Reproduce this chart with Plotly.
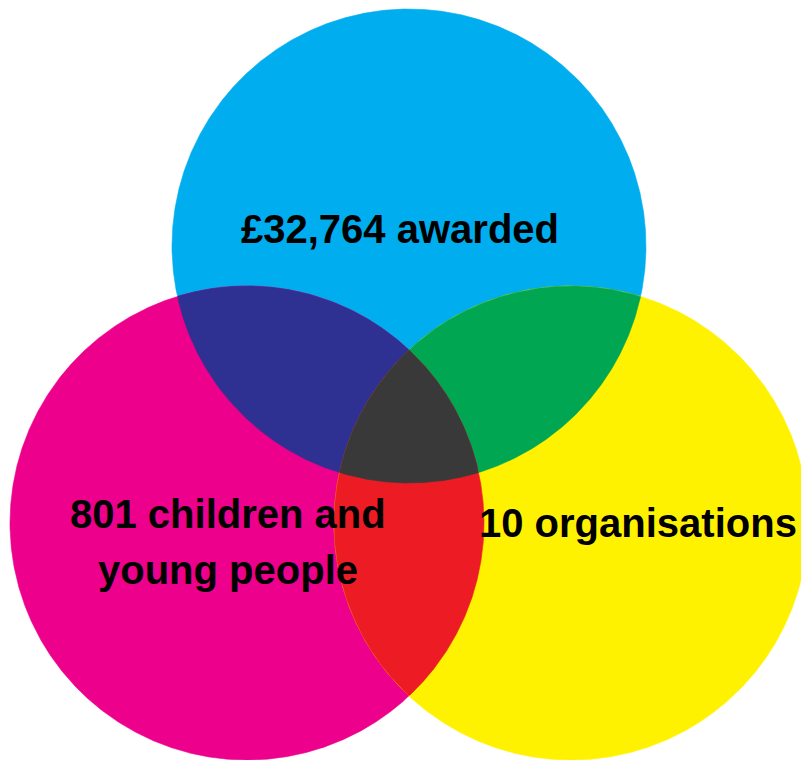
import itertools
import numpy as np
import plotly.graph_objects as go

# Set labels (one per circle) and the text lines they are drawn with
set_labels = ["£32,764 awarded", "801 children and<br>young people", "10 organisations"]

# Fill colours: single sets, pairwise overlaps, triple overlap
set_colors = ["#00ADEE", "#EC008C", "#FFF200"]
pair_colors = {(0, 1): "#2E3192", (0, 2): "#00A651", (1, 2): "#ED1C24"}
triple_color = "#39393A"

# Circle geometry in plot units (x right, y down)
RADIUS = 237
CENTERS = [(409, 246), (247, 523), (571, 523)]

# Label anchor positions and line spacing
LABEL_POS = [(400, 229), (228, 514), (638, 523)]
LINE_GAP = 56
FONT_SIZE = 40


def region_polygon(idx, n=3000):
    """Boundary of the intersection of the circles listed in idx."""
    t = np.linspace(0, 2 * np.pi, n, endpoint=False)
    xs, ys = [], []
    for i in idx:
        cx, cy = CENTERS[i]
        px = cx + RADIUS * np.cos(t)
        py = cy + RADIUS * np.sin(t)
        keep = np.ones_like(t, dtype=bool)
        for j in idx:
            if j == i:
                continue
            ox, oy = CENTERS[j]
            keep &= (px - ox) ** 2 + (py - oy) ** 2 <= RADIUS ** 2 + 1e-6
        xs.append(px[keep])
        ys.append(py[keep])
    x = np.concatenate(xs)
    y = np.concatenate(ys)
    mx, my = x.mean(), y.mean()
    order = np.argsort(np.arctan2(y - my, x - mx))
    x, y = x[order], y[order]
    return np.append(x, x[0]), np.append(y, y[0])


fig = go.Figure()

regions = []
for i in range(3):
    regions.append(((i,), set_colors[i]))
for pair in itertools.combinations(range(3), 2):
    regions.append((pair, pair_colors[pair]))
regions.append(((0, 1, 2), triple_color))

for idx, color in regions:
    x, y = region_polygon(idx)
    fig.add_trace(go.Scatter(
        x=x, y=y, mode="lines", fill="toself",
        fillcolor=color, line=dict(width=0.6, color=color),
        hoverinfo="skip", showlegend=False,
    ))

for label, (lx, ly) in zip(set_labels, LABEL_POS):
    for k, line in enumerate(label.split("<br>")):
        fig.add_annotation(
            x=lx, y=ly + k * LINE_GAP, text=line, showarrow=False,
            xanchor="center", yanchor="middle",
            font=dict(family="Liberation Sans, Arial, sans-serif",
                      size=FONT_SIZE, color="#000000", weight=700),
        )

fig.update_xaxes(range=[0, 801], visible=False, fixedrange=True)
fig.update_yaxes(range=[760, 0], visible=False, fixedrange=True)
fig.update_layout(
    width=801, height=760,
    margin=dict(l=0, r=0, t=0, b=0),
    plot_bgcolor="white", paper_bgcolor="white",
)

fig.write_html("out.html")
